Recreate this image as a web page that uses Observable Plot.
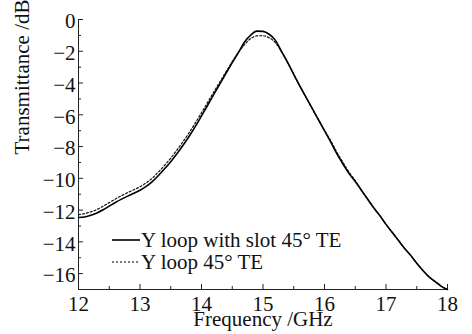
<!DOCTYPE html>
<html><head><meta charset="utf-8">
<script src="https://cdn.jsdelivr.net/npm/d3@7"></script>
<script src="https://cdn.jsdelivr.net/npm/@observablehq/plot@0.6"></script>
<style>
body{margin:0;background:#fff}
</style>
</head><body><div id="chart"></div>
<script>
const freq = [12.0,12.1,12.2,12.3,12.4,12.5,12.6,12.7,12.8,12.9,
  13.0,13.1,13.2,13.3,13.4,13.5,13.6,13.7,13.8,13.9,
  14.0,14.1,14.2,14.3,14.4,14.5,14.6,14.7,14.8,14.9,
  15.0,15.1,15.2,15.3,15.4,15.5,15.6,15.7,15.8,15.9,
  16.0,16.1,16.2,16.3,16.4,16.5,16.6,16.7,16.8,16.9,
  17.0,17.1,17.2,17.3,17.4,17.5,17.6,17.7,17.8,17.9,18.0];
const slotTE = [-12.47,-12.43,-12.33,-12.18,-11.98,-11.75,-11.52,-11.31,-11.12,-10.94,
  -10.75,-10.51,-10.21,-9.82,-9.4,-8.95,-8.45,-7.92,-7.35,-6.73,
  -6.07,-5.4,-4.72,-4.05,-3.38,-2.72,-2.08,-1.42,-0.98,-0.73,
  -0.75,-0.93,-1.3,-2.0,-2.7,-3.45,-4.2,-4.9,-5.6,-6.3,
  -7.0,-7.7,-8.45,-9.1,-9.7,-10.2,-10.75,-11.3,-11.85,-12.35,
  -12.9,-13.4,-13.9,-14.4,-14.85,-15.35,-15.8,-16.2,-16.5,-16.8,-17.0];
const loopTE = [-12.28,-12.22,-12.11,-11.96,-11.76,-11.53,-11.3,-11.09,-10.9,-10.72,
  -10.53,-10.29,-9.99,-9.6,-9.18,-8.73,-8.22,-7.69,-7.12,-6.51,
  -5.87,-5.22,-4.56,-3.92,-3.28,-2.65,-2.07,-1.58,-1.2,-1.03,
  -1.02,-1.15,-1.45,-2.02,-2.7,-3.45,-4.2,-4.9,-5.6,-6.3,
  -7.0,-7.62,-8.35,-9.0,-9.62,-10.15,-10.75,-11.3,-11.85,-12.35,
  -12.9,-13.4,-13.9,-14.4,-14.85,-15.35,-15.8,-16.2,-16.5,-16.8,-17.0];
const seriesNames = ["Y loop with slot 45\u00b0 TE", "Y loop 45\u00b0 TE"];
const xTicks = [12,13,14,15,16,17,18];
const xMinor = [12.5,13.5,14.5,15.5,16.5,17.5];
const yTicks = [0,-2,-4,-6,-8,-10,-12,-14,-16];
const yMinor = [-1,-3,-5,-7,-9,-11,-13,-15];

const W = 472, H = 334, mL = 78, mR = 25, mT = 19, mB = 45;
const fh = H - mT - mB, fw = W - mL - mR;
const FONT = "Liberation Serif";
const FS = 21;
const rows = [];
freq.forEach((f, i) => {
  rows.push({f, v: slotTE[i], s: seriesNames[0]});
  rows.push({f, v: loopTE[i], s: seriesNames[1]});
});
const fmt = d => d < 0 ? "\u2212" + (-d) : String(d);

const plot = Plot.plot({
  width: W, height: H, marginLeft: mL, marginRight: mR, marginTop: mT, marginBottom: mB,
  style: {background: "#fff", color: "#111"},
  x: {domain: [12, 18]},
  y: {domain: [-17, 0]},
  marks: [
    Plot.axisX(xTicks, {tickSize: 0, tickPadding: 7, tickFormat: fmt, label: null, fontFamily: FONT, fontSize: FS}),
    Plot.axisY(yTicks, {tickSize: 0, tickPadding: 3, tickFormat: fmt, label: null, dy: 2, fontFamily: FONT, fontSize: FS}),
    Plot.tickX(xTicks, {x: d => d, insetTop: fh - 5, stroke: "#222"}),
    Plot.tickX(xMinor, {x: d => d, insetTop: fh - 3, stroke: "#222"}),
    Plot.tickY(yTicks, {y: d => d, insetRight: fw - 5, stroke: "#222"}),
    Plot.tickY(yMinor, {y: d => d, insetRight: fw - 3, stroke: "#222"}),
    Plot.ruleX([12], {stroke: "#222"}),
    Plot.ruleY([-17], {stroke: "#222"}),
    Plot.line(rows.filter(d => d.s === seriesNames[1]), {x: "f", y: "v", curve: "monotone-x", stroke: "#111", strokeWidth: 1.2, strokeDasharray: "2,2"}),
    Plot.line(rows.filter(d => d.s === seriesNames[0]), {x: "f", y: "v", curve: "monotone-x", stroke: "#000", strokeWidth: 1.6}),
    Plot.text(["Frequency /GHz"], {frameAnchor: "bottom", dy: 36, fontFamily: FONT, fontSize: FS}),
    Plot.text(["Transmittance /dB"], {frameAnchor: "left", rotate: -90, dx: -56, fontFamily: FONT, fontSize: FS})
  ]
});

const svg = d3.select(plot);
svg.attr("font-family", FONT).attr("font-size", FS);
const lg = svg.append("g");
seriesNames.forEach((name, i) => {
  const y = 240 + i * 22;
  lg.append("line").attr("x1", 112).attr("x2", 140).attr("y1", y).attr("y2", y)
    .attr("stroke", "#000").attr("stroke-width", i ? 1.2 : 1.6)
    .attr("stroke-dasharray", i ? "2,2" : null);
  lg.append("text").attr("x", 141).attr("y", y).attr("dy", "0.32em")
    .attr("text-anchor", "start").attr("fill", "#111")
    .attr("font-family", FONT).attr("font-size", FS).text(name);
});
svg.selectAll("text").attr("font-family", FONT);
document.getElementById("chart").appendChild(plot);
</script>
</body></html>
